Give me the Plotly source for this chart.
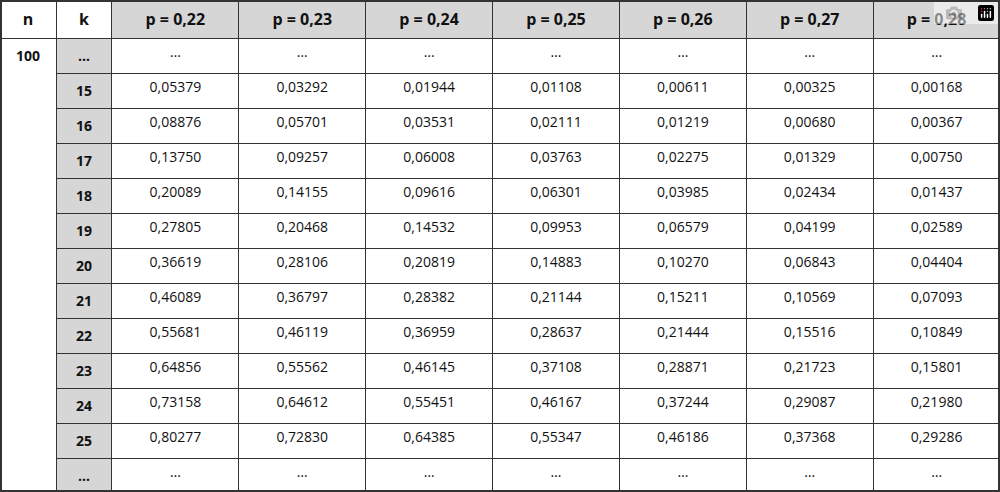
import plotly.graph_objects as go

n_label = "100"
k_values = ["…", "15", "16", "17", "18", "19", "20", "21", "22", "23", "24", "25", "…"]
p_headers = ["p = 0,22", "p = 0,23", "p = 0,24", "p = 0,25", "p = 0,26", "p = 0,27", "p = 0,28"]
p022 = ["0,05379", "0,08876", "0,13750", "0,20089", "0,27805", "0,36619", "0,46089", "0,55681", "0,64856", "0,73158", "0,80277"]
p023 = ["0,03292", "0,05701", "0,09257", "0,14155", "0,20468", "0,28106", "0,36797", "0,46119", "0,55562", "0,64612", "0,72830"]
p024 = ["0,01944", "0,03531", "0,06008", "0,09616", "0,14532", "0,20819", "0,28382", "0,36959", "0,46145", "0,55451", "0,64385"]
p025 = ["0,01108", "0,02111", "0,03763", "0,06301", "0,09953", "0,14883", "0,21144", "0,28637", "0,37108", "0,46167", "0,55347"]
p026 = ["0,00611", "0,01219", "0,02275", "0,03985", "0,06579", "0,10270", "0,15211", "0,21444", "0,28871", "0,37244", "0,46186"]
p027 = ["0,00325", "0,00680", "0,01329", "0,02434", "0,04199", "0,06843", "0,10569", "0,15516", "0,21723", "0,29087", "0,37368"]
p028 = ["0,00168", "0,00367", "0,00750", "0,01437", "0,02589", "0,04404", "0,07093", "0,10849", "0,15801", "0,21980", "0,29286"]
series = [p022, p023, p024, p025, p026, p027, p028]

GRAY = "#d6d6d6"
LINE = "#333333"
FONT = "Open Sans"
HEADER_H = 38
CELL_H = 34.6
W, H = 1000, 492
n_w, k_w, p_w = 56, 56, 127
HF = 16
CF = 14

cols = [["<b>" + v + "</b>" for v in k_values]] + [["…"] + s + ["…"] for s in series]
headers = ["<b>k</b>"] + ["<b>" + h + "</b>" for h in p_headers]

fig = go.Figure()
fig.add_trace(go.Table(
    domain=dict(x=[0, n_w / W], y=[0, 1]),
    columnwidth=[1],
    header=dict(values=["<b>n</b>"], height=HEADER_H, fill_color="white",
                line=dict(color=LINE, width=1), align="center",
                font=dict(family=FONT, size=HF, color="#111")),
    cells=dict(values=[["<b>" + n_label + "</b>"] + [""] * 12], height=CELL_H,
               fill_color="white", line=dict(color="white", width=1), align="center",
               font=dict(family=FONT, size=CF, color="#111")),
))
fig.add_trace(go.Table(
    domain=dict(x=[n_w / W, 1], y=[0, 1]),
    columnwidth=[k_w] + [p_w] * 7,
    header=dict(values=headers, height=HEADER_H,
                fill_color=["white"] + [GRAY] * 7,
                line=dict(color=LINE, width=1), align="center",
                font=dict(family=FONT, size=HF, color="#111")),
    cells=dict(values=cols, height=CELL_H,
               fill_color=[GRAY] + ["white"] * 7,
               line=dict(color=LINE, width=1), align="center",
               font=dict(family=FONT, size=CF, color="#111")),
))
fig.add_shape(type="rect", xref="paper", yref="paper", x0=0.001, x1=0.999, y0=0.002, y1=0.998,
              line=dict(color=LINE, width=2))
fig.update_layout(width=W, height=H, margin=dict(l=0, r=0, t=0, b=0),
                  paper_bgcolor="white", plot_bgcolor="white")
fig.write_html("out.html")

with open("out.html", encoding="utf-8") as f:
    html = f.read()
html = html.replace("<head>", "<head><style>html,body{margin:0;padding:0;overflow:hidden}</style>", 1)
with open("out.html", "w", encoding="utf-8") as f:
    f.write(html)
